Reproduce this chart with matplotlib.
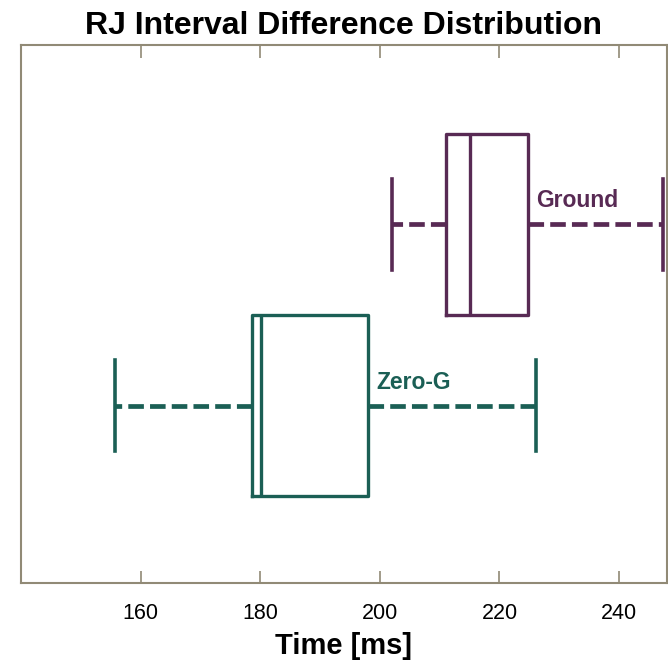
import matplotlib.pyplot as plt

plt.rcParams['font.family'] = ['Liberation Sans', 'DejaVu Sans']

# five-number summaries per condition (ms)
groups = ["Zero-G", "Ground"]
whislo = [155.8, 202.0]
q1 = [178.7, 211.0]
med = [180.1, 215.0]
q3 = [198.1, 224.8]
whishi = [226.1, 247.3]
colors = ["#1b5f55", "#582a54"]

FRAME = "#918a76"

stats = []
for i, g in enumerate(groups):
    stats.append(dict(label=g, whislo=whislo[i], q1=q1[i], med=med[i],
                      q3=q3[i], whishi=whishi[i], fliers=[]))

fig = plt.figure(figsize=(6.68, 6.68), dpi=100)
ax = fig.add_axes([0.0314, 0.127, 0.967, 0.806])

for i, s in enumerate(stats):
    c = colors[i]
    ax.bxp([s], positions=[i + 1], widths=1.0, capwidths=[0.5],
           orientation='horizontal', showfliers=False,
           boxprops=dict(color=c, linewidth=2.4),
           medianprops=dict(color=c, linewidth=2.4),
           whiskerprops=dict(color=c, linewidth=3.4, linestyle=(0, (3.3, 1.3))),
           capprops=dict(color=c, linewidth=2.6))
    ax.text(q3[i] + 1.3, i + 1 + 0.065, groups[i], color=c, fontsize=16.5,
            fontweight='bold', ha='left', va='bottom')

ax.set_xlim(140, 248)
ax.set_ylim(0.02, 2.99)
ax.set_xticks([160, 180, 200, 220, 240])
ax.set_yticks([])
ax.tick_params(axis='x', direction='in', length=9, width=1.2, color=FRAME,
               top=True, labelsize=15.5, pad=14)
for sp in ax.spines.values():
    sp.set_color(FRAME)
    sp.set_linewidth(1.5)

ax.set_title("RJ Interval Difference Distribution", fontsize=23,
             fontweight='bold', pad=8)
ax.set_xlabel("Time [ms]", fontsize=21, fontweight='bold', labelpad=6)

fig.savefig("out.png", dpi=100)
